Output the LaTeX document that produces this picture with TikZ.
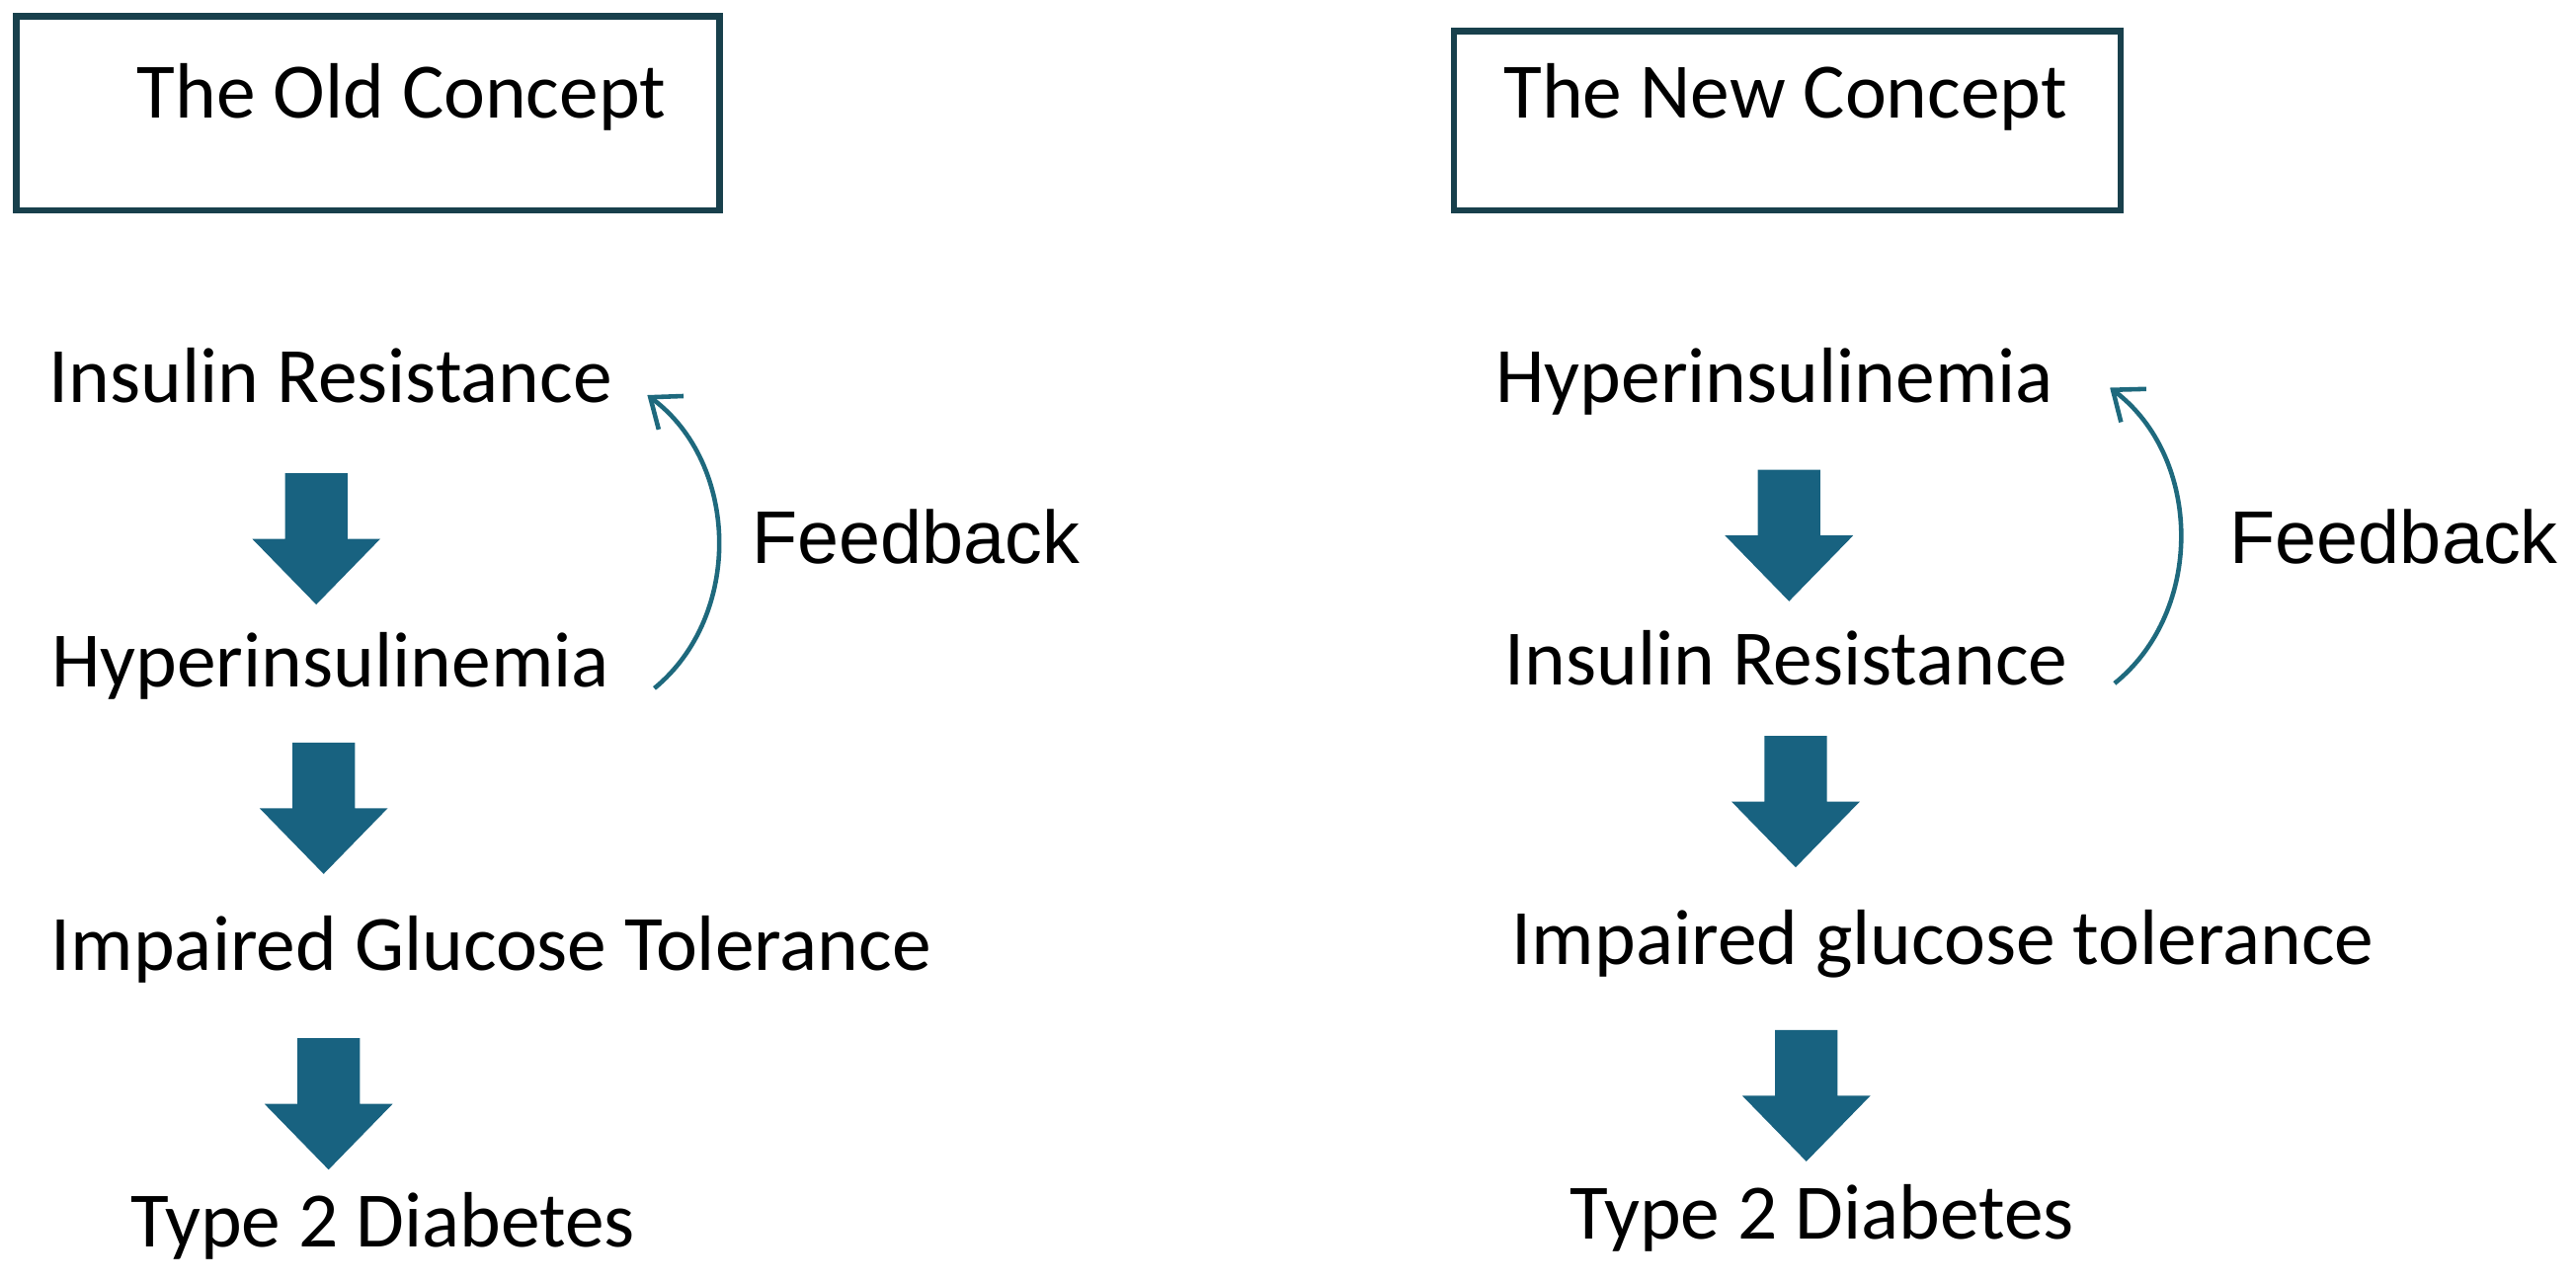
\documentclass[tikz,border=0pt]{standalone}
\usepackage{fontspec}
\setmainfont{Carlito}
\newfontfamily\fbfont{Liberation Sans}
\usetikzlibrary{arrows.meta}
\definecolor{boxline}{RGB}{24,64,76}
\definecolor{arrowfill}{RGB}{24,98,128}
\definecolor{fbline}{RGB}{30,105,125}
\tikzset{
  stage/.style={anchor=base west, inner sep=0pt, font=\fontsize{22.6}{27}\selectfont},
  titlebox/.style={draw=boxline, line width=1.8pt},
  fbarrow/.style={draw=fbline, line width=1.3pt, -{Straight Barb[length=7.5pt,width=12pt]}},
  fblabel/.style={anchor=base west, inner sep=0pt, font=\fbfont\fontsize{21.5}{26}\selectfont}
}
\def\blockarrow#1#2{\fill[arrowfill] (#1-19,#2) -- ++(38,0) -- ++(0,40) -- ++(20,0) -- (#1,#2+80) -- ++(-39,-40) -- ++(20,0) -- cycle;}

\begin{document}
\begin{tikzpicture}[x=0.016633cm, y=-0.016633cm]
\useasboundingbox (0,0) rectangle (1568,780);

\draw [titlebox] (10,10) rectangle (438,128);
\draw [titlebox] (885,19) rectangle (1291,128);
\node [stage] (old) at (83,72) {The Old Concept};
\node [stage] (new) at (915,72) {The New Concept};

\node [stage] (ir1) at (29.5,245) {Insulin Resistance};
\node [stage] (hy1) at (31,418) {Hyperinsulinemia};
\node [stage] (igt1) at (30.7,591) {Impaired Glucose Tolerance};
\node [stage] (td1) at (79,759) {Type 2 Diabetes};

\node [stage] (hy2) at (910,245) {Hyperinsulinemia};
\node [stage] (ir2) at (915.6,417) {Insulin Resistance};
\node [stage] (igt2) at (920,587) {Impaired glucose tolerance};
\node [stage] (td2) at (955,754.5) {Type 2 Diabetes};

\foreach \ax/\ay in {192.5/288, 197/452, 200/632, 1089/286, 1093/448, 1099.5/627}
  {\blockarrow{\ax}{\ay}}

\draw [fbarrow] ([shift={(27,1)}]hy1.base east) to [bend right=52] ([shift={(21,-4.5)}]ir1.base east);
\draw [fbarrow] ([shift={(28,-1)}]ir2.base east) to [bend right=52] ([shift={(34,-9)}]hy2.base east);
\node [fblabel] (fb1) at (457.5,343) {Feedback};
\node [fblabel] (fb2) at (1357,343) {Feedback};
\end{tikzpicture}
\end{document}
